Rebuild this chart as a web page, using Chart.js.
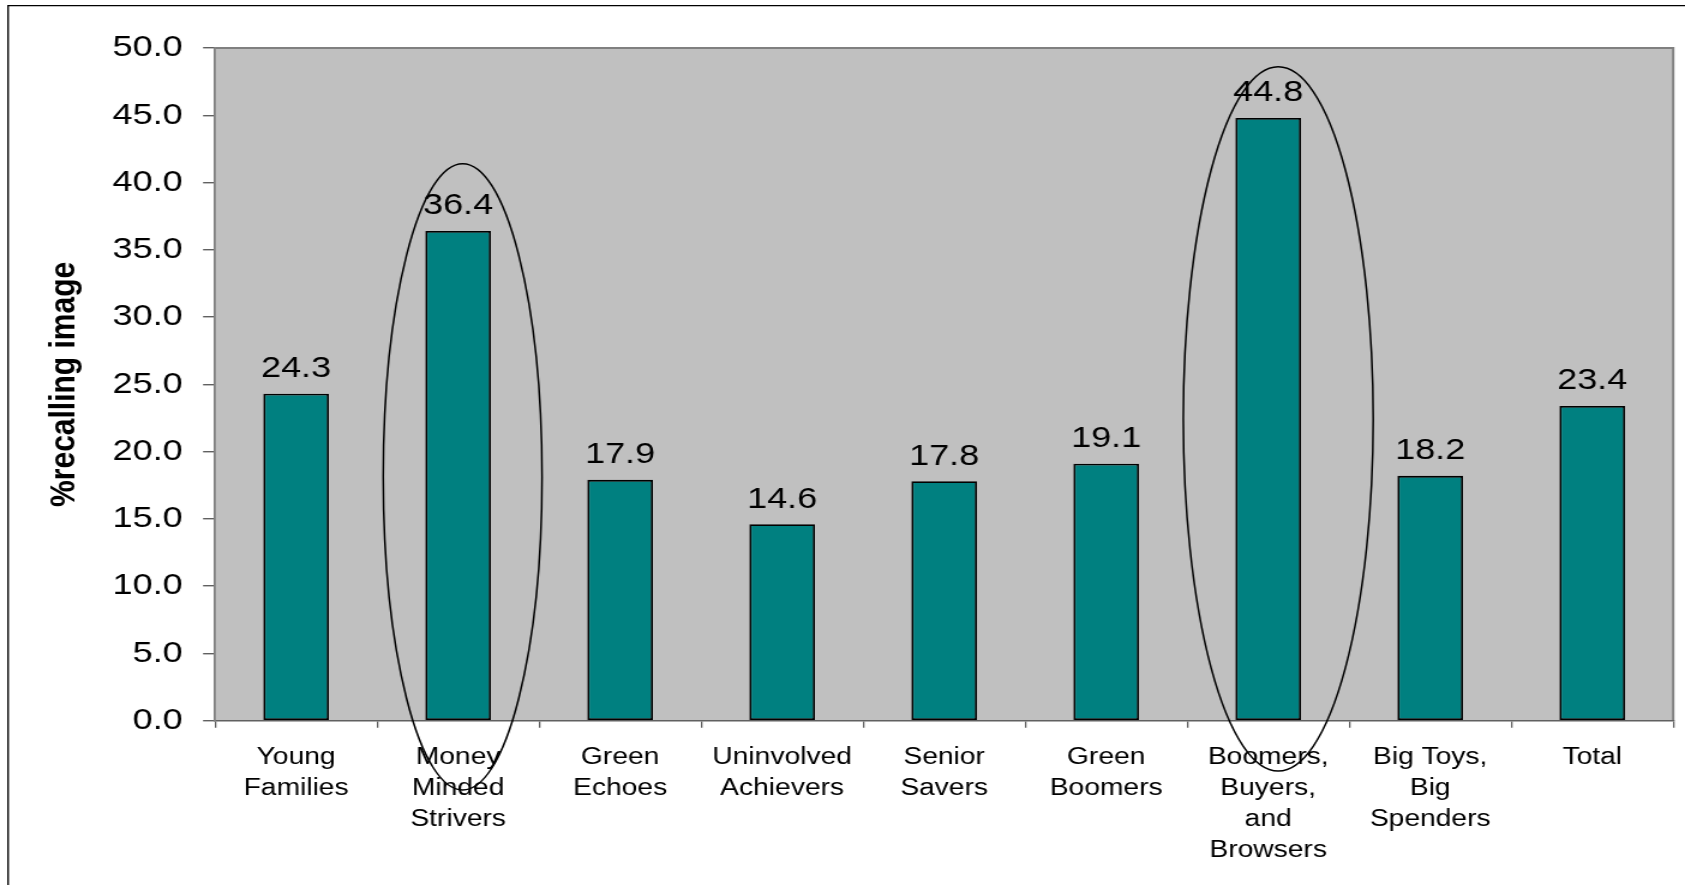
<!DOCTYPE html>
<html>
<head>
<meta charset="utf-8">
<script src="https://cdn.jsdelivr.net/npm/chart.js@4.4.1/dist/chart.umd.min.js"></script>
<style>
  html, body { margin: 0; padding: 0; background: #ffffff; overflow: hidden; }
  /* the chart is laid out at 1404px and widened to fill the 1685px window */
  #wrap { width: 1404px; height: 885px; transform: scaleX(1.20014); transform-origin: 0 0; }
  canvas { display: block; }
</style>
</head>
<body>
<div id="wrap"><canvas id="chart" width="1404" height="885"></canvas></div>
<script>
// Segments (x axis categories, one line per array entry)
const segments = [
  ['Young', 'Families'],
  ['Money', 'Minded', 'Strivers'],
  ['Green', 'Echoes'],
  ['Uninvolved', 'Achievers'],
  ['Senior', 'Savers'],
  ['Green', 'Boomers'],
  ['Boomers,', 'Buyers,', 'and', 'Browsers'],
  ['Big Toys,', 'Big', 'Spenders'],
  ['Total']
];

// % recalling image, per segment
const recallPct = [24.3, 36.4, 17.9, 14.6, 17.8, 19.1, 44.8, 18.2, 23.4];

// Value axis ticks
const yTickValues = [0, 5, 10, 15, 20, 25, 30, 35, 40, 45, 50];

// Segments singled out with a hand-drawn ring
const ringedSegments = [1, 6];

const FONT = '"Liberation Sans", Arial, Helvetica, sans-serif';

// Ring geometry: vertical extent in value units, horizontal in category widths
const ringShape = {
  1: { top: 41.4, bottom: -5.15, shift: 0.028, half: 0.49 },
  6: { top: 48.6, bottom: -3.74, shift: 0.062, half: 0.586 }
};

const frameAndPlot = {
  id: 'frameAndPlot',
  beforeDraw(chart) {
    const { ctx, chartArea: a } = chart;
    ctx.save();
    ctx.fillStyle = '#ffffff';
    ctx.fillRect(0, 0, chart.width, chart.height);
    // outer frame (runs off the right and bottom edges)
    ctx.strokeStyle = '#000000';
    ctx.lineWidth = 1.4;
    ctx.beginPath();
    ctx.moveTo(6.7, chart.height + 5);
    ctx.lineTo(6.7, 5.6);
    ctx.lineTo(chart.width + 5, 5.6);
    ctx.stroke();
    // plot area
    ctx.fillStyle = '#c0c0c0';
    ctx.fillRect(a.left, a.top, a.right - a.left, a.bottom - a.top);
    ctx.strokeStyle = '#808080';
    ctx.lineWidth = 2;
    ctx.beginPath();
    ctx.moveTo(a.left, a.top);
    ctx.lineTo(a.right, a.top);
    ctx.lineTo(a.right, a.bottom);
    ctx.stroke();
    ctx.restore();
  }
};

const valueLabels = {
  id: 'valueLabels',
  afterDatasetsDraw(chart) {
    const { ctx } = chart;
    const meta = chart.getDatasetMeta(0);
    ctx.save();
    ctx.font = '30px ' + FONT;
    ctx.fillStyle = '#000000';
    ctx.textAlign = 'center';
    ctx.textBaseline = 'alphabetic';
    meta.data.forEach((bar, i) => {
      ctx.fillText(recallPct[i].toFixed(1), bar.x, bar.y - 16.5);
    });
    ctx.restore();
  }
};

const rings = {
  id: 'rings',
  afterDraw(chart) {
    const { ctx } = chart;
    const xs = chart.scales.x, ys = chart.scales.y;
    const catW = (xs.right - xs.left) / segments.length;
    ctx.save();
    ctx.strokeStyle = '#000000';
    ctx.lineWidth = 1.5;
    ringedSegments.forEach(idx => {
      const s = ringShape[idx];
      const cx = xs.getPixelForValue(idx) + s.shift * catW;
      const top = ys.getPixelForValue(s.top);
      const bottom = ys.getPixelForValue(s.bottom);
      ctx.beginPath();
      ctx.ellipse(cx, (top + bottom) / 2, s.half * catW, (bottom - top) / 2, 0, 0, Math.PI * 2);
      ctx.stroke();
    });
    ctx.restore();
  }
};

new Chart(document.getElementById('chart'), {
  type: 'bar',
  data: {
    labels: segments,
    datasets: [{
      data: recallPct,
      backgroundColor: '#008080',
      borderColor: '#000000',
      borderWidth: 1.8,
      borderSkipped: false,
      categoryPercentage: 1,
      barPercentage: 0.405
    }]
  },
  options: {
    responsive: false,
    devicePixelRatio: 1,
    animation: false,
    layout: { padding: { left: 36.2, right: 9.8, top: 48, bottom: 0 } },
    plugins: {
      legend: { display: false },
      tooltip: { enabled: false }
    },
    scales: {
      x: {
        type: 'category',
        border: { display: true, color: '#606060', width: 1.5 },
        grid: {
          offset: true,
          drawOnChartArea: false,
          drawTicks: true,
          tickLength: 7,
          color: '#606060',
          lineWidth: 1.3
        },
        ticks: {
          color: '#000000',
          padding: 14,
          maxRotation: 0,
          autoSkip: false,
          font: { family: FONT, size: 23.5, lineHeight: '31px' }
        },
        afterFit(scale) { scale.height = 164.3; }
      },
      y: {
        min: 0,
        max: 50,
        border: { display: true, color: '#808080', width: 1.8 },
        grid: {
          drawOnChartArea: false,
          drawTicks: true,
          tickLength: 10,
          color: '#606060',
          lineWidth: 1.4
        },
        afterBuildTicks(scale) {
          scale.ticks = yTickValues.map(v => ({ value: v }));
        },
        ticks: {
          color: '#000000',
          padding: 17,
          font: { family: FONT, size: 30 },
          callback: v => Number(v).toFixed(1)
        },
        title: {
          display: true,
          text: '%recalling image',
          color: '#000000',
          padding: { top: 0, bottom: 0 },
          font: { family: FONT, size: 30, weight: 'bold', lineHeight: 1.2 }
        },
        afterFit(scale) { scale.width = 143; }
      }
    }
  },
  plugins: [frameAndPlot, valueLabels, rings]
});
</script>
</body>
</html>
